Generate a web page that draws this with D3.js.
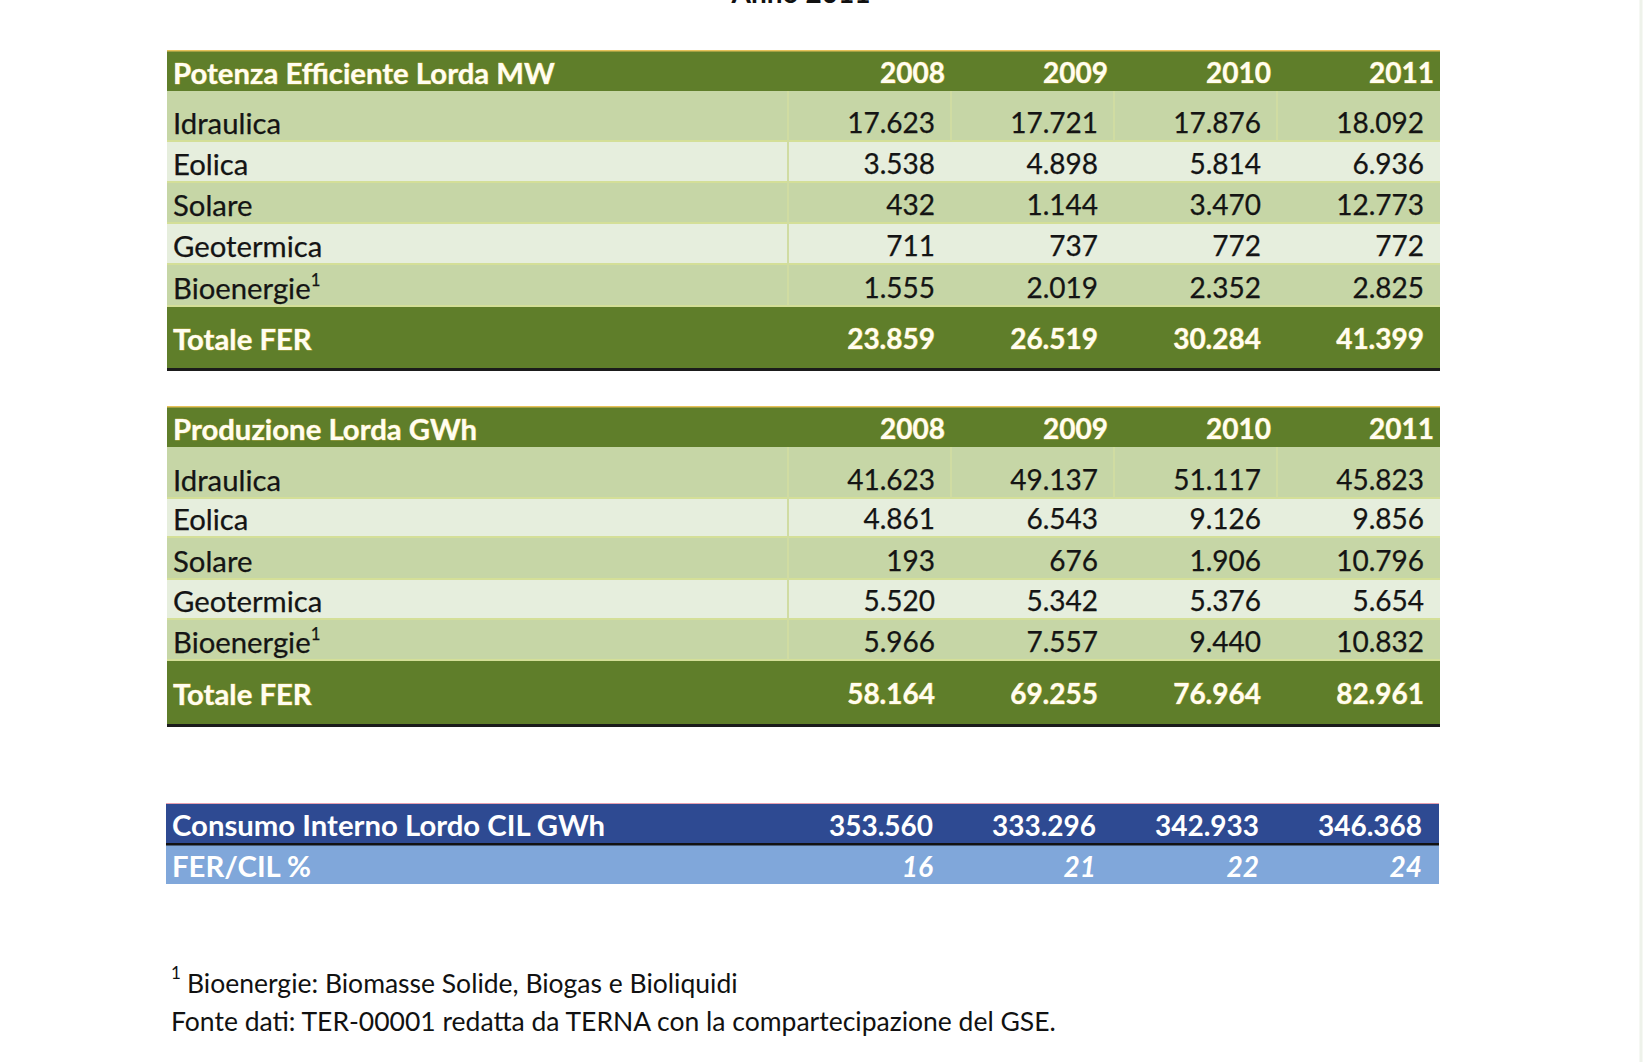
<!DOCTYPE html>
<html><head><meta charset="utf-8">
<script src="https://cdn.jsdelivr.net/npm/d3@7"></script>
<style>html,body{margin:0;padding:0;background:#fff;} svg{display:block}</style>
</head><body>
<svg id="c" width="1651" height="1062"></svg>
<script>
// ---------- DATA ----------
const years = ["2008", "2009", "2010", "2011"];
const sources = ["Idraulica", "Eolica", "Solare", "Geotermica", "Bioenergie"];
const potenzaTitle = "Potenza Efficiente Lorda MW";
const potenzaValues = [
  [17623, 17721, 17876, 18092],
  [3538, 4898, 5814, 6936],
  [432, 1144, 3470, 12773],
  [711, 737, 772, 772],
  [1555, 2019, 2352, 2825]
];
const potenzaTotale = [23859, 26519, 30284, 41399];
const produzioneTitle = "Produzione Lorda GWh";
const produzioneValues = [
  [41623, 49137, 51117, 45823],
  [4861, 6543, 9126, 9856],
  [193, 676, 1906, 10796],
  [5520, 5342, 5376, 5654],
  [5966, 7557, 9440, 10832]
];
const produzioneTotale = [58164, 69255, 76964, 82961];
const totaleLabel = "Totale FER";
const cilLabel = "Consumo Interno Lordo CIL GWh";
const cilValues = [353560, 333296, 342933, 346368];
const ferCilLabel = "FER/CIL %";
const ferCilPct = [16, 21, 22, 24];
const titleText = "Anno 2011";
const footnote1 = "Bioenergie: Biomasse Solide, Biogas e Bioliquidi";
const footnote2 = "Fonte dati: TER-00001 redatta da TERNA con la compartecipazione del GSE.";

// ---------- STYLE ----------
const FONT = "Lato, 'Open Sans', sans-serif";
const FS = 28;      // numbers
const FSL = 29.3;   // labels
const C = {
  green: "#5f7e2a", mid: "#c6d6a6", light: "#e6eedd", line: "#d4df98",
  sep: "#d0dca2", blueDark: "#2e4a92", blueLight: "#80a7da",
  text: "#141414", head: "#fffdf2", fringe: "#e3cb5a"
};

const it = d3.formatLocale({decimal: ",", thousands: ".", grouping: [3], currency: ["€", ""]});
const fmt = it.format(",d");

const svg = d3.select("#c");
svg.append("rect").attr("width", 1651).attr("height", 1062).attr("fill", "#fff");

// faint scan edge on the right
svg.append("line").attr("x1", 1641).attr("x2", 1641).attr("y1", 0).attr("y2", 1062)
  .attr("stroke", "#eef2ea").attr("stroke-width", 3);

// title, clipped by the top edge as in the scan
svg.append("text").attr("x", 801).attr("y", 3).attr("text-anchor", "middle")
  .attr("font-family", FONT).attr("font-weight", 700).attr("font-size", FS)
  .attr("fill", "#111").text(titleText);

const x = d3.scaleBand().domain(years).range([788, 1440]).padding(0);
const X0 = 167, X1 = 1440;

function headText(sel) {
  return sel.attr("fill", C.head).attr("stroke", C.fringe).attr("stroke-width", 0.7)
    .attr("paint-order", "stroke").attr("font-weight", 700);
}
function bodyText(sel) {
  return sel.attr("fill", C.text).attr("stroke", C.text).attr("stroke-width", 0.25);
}

function greenTable(bounds, title, values, totals) {
  const g = svg.append("g").attr("font-family", FONT).attr("font-size", FS);
  const rows = [{type: "head", label: title, vals: years}]
    .concat(sources.map((s, i) => ({type: "body", label: s, vals: values[i], i})))
    .concat([{type: "tot", label: totaleLabel, vals: totals}]);
  const y = d3.scaleOrdinal().domain(d3.range(rows.length)).range(bounds.slice(0, -1));
  const yb = d3.scaleOrdinal().domain(d3.range(rows.length)).range(bounds.slice(1));

  rows.forEach((r, k) => {
    const top = y(k), bot = yb(k);
    const fill = r.type === "body" ? (r.i % 2 === 0 ? C.mid : C.light) : C.green;
    g.append("rect").attr("x", X0).attr("y", top).attr("width", X1 - X0).attr("height", bot - top).attr("fill", fill);
  });
  rows.forEach((r, k) => {
    if (k >= 1 && k <= sources.length) {
      g.append("rect").attr("x", X0).attr("y", yb(k) - 1).attr("width", X1 - X0).attr("height", 2)
        .attr("fill", C.line);
    }
  });
  rows.forEach((r, k) => {
    if (r.type !== "body") return;
    g.append("rect").attr("x", x(years[0]) - 1).attr("y", y(k)).attr("width", 2).attr("height", yb(k) - y(k)).attr("fill", C.sep);
    if (r.i === 0) {
      years.slice(1).forEach(yr => {
        g.append("rect").attr("x", x(yr) - 1).attr("y", y(k)).attr("width", 2).attr("height", yb(k) - y(k)).attr("fill", C.sep);
      });
    }
  });
  g.append("rect").attr("x", X0).attr("y", bounds[0] - 1).attr("width", X1 - X0).attr("height", 1.5).attr("fill", "#e7c25a");
  g.append("rect").attr("x", X0).attr("y", bounds[bounds.length - 1]).attr("width", X1 - X0).attr("height", 3).attr("fill", "#1b1b1b");

  rows.forEach((r, k) => {
    const cy = r.type === "tot" ? (y(k) + yb(k)) / 2 + 2 : yb(k) - 18;
    const lt = g.append("text").attr("x", X0 + 6).attr("y", cy).attr("dy", "0.36em").attr("font-size", FSL);
    if (r.type === "body") {
      bodyText(lt).text(r.label);
      if (r.label === "Bioenergie") lt.append("tspan").attr("dy", "-0.75em").attr("font-size", FS * 0.6).text("1");
    } else {
      headText(lt).text(r.label);
    }
    r.vals.forEach((v, j) => {
      const isHead = r.type === "head";
      const t = g.append("text").attr("x", x(years[j]) + x.bandwidth() - (isHead ? 6 : 16))
        .attr("y", cy).attr("dy", "0.36em").attr("text-anchor", "end")
        .text(isHead ? v : fmt(v));
      if (r.type === "body") bodyText(t); else headText(t);
    });
  });
}

greenTable([51, 91, 141, 182, 223, 264, 306, 368], potenzaTitle, potenzaValues, potenzaTotale);
greenTable([407, 447, 498, 537, 579, 619, 660, 724], produzioneTitle, produzioneValues, produzioneTotale);

// blue table
(function () {
  const g = svg.append("g").attr("font-family", FONT).attr("font-size", FS);
  const rows = [
    {label: cilLabel, vals: cilValues.map(fmt), fill: C.blueDark, italic: false},
    {label: ferCilLabel, vals: ferCilPct.map(String), fill: C.blueLight, italic: true}
  ];
  const yTop = d3.scaleOrdinal().domain([0, 1]).range([804, 845]);
  const yBot = d3.scaleOrdinal().domain([0, 1]).range([843, 884]);
  rows.forEach((r, k) => {
    g.append("rect").attr("x", X0 - 1).attr("y", yTop(k)).attr("width", X1 - X0).attr("height", yBot(k) - yTop(k)).attr("fill", r.fill);
  });
  g.append("rect").attr("x", X0 - 1).attr("y", 843).attr("width", X1 - X0).attr("height", 2.5).attr("fill", "#121212");
  g.append("rect").attr("x", X0 - 1).attr("y", 803).attr("width", X1 - X0).attr("height", 1).attr("fill", "#e6a0b0");
  rows.forEach((r, k) => {
    const cy = (yTop(k) + yBot(k)) / 2 + 2;
    g.append("text").attr("x", X0 + 5).attr("y", cy).attr("dy", "0.36em").attr("font-size", FSL)
      .attr("fill", "#ffffff").attr("font-weight", 700).text(r.label);
    r.vals.forEach((v, j) => {
      g.append("text").attr("x", x(years[j]) + x.bandwidth() - 18).attr("y", cy).attr("dy", "0.36em")
        .attr("text-anchor", "end").attr("fill", "#ffffff").attr("font-weight", 700)
        .attr("font-style", r.italic ? "italic" : "normal").text(v);
    });
  });
})();

// footnotes
const fg = svg.append("g").attr("font-family", FONT).attr("font-size", 26.5).attr("fill", "#111");
const f1 = fg.append("text").attr("x", 171).attr("y", 982).attr("dy", "0.36em");
f1.append("tspan").attr("font-size", 17).attr("dy", "-0.2em").text("1");
f1.append("tspan").attr("x", 187).attr("dy", "0.56em").text(footnote1);
fg.append("text").attr("x", 171).attr("y", 1021).attr("dy", "0.36em").text(footnote2);
</script>
</body></html>
